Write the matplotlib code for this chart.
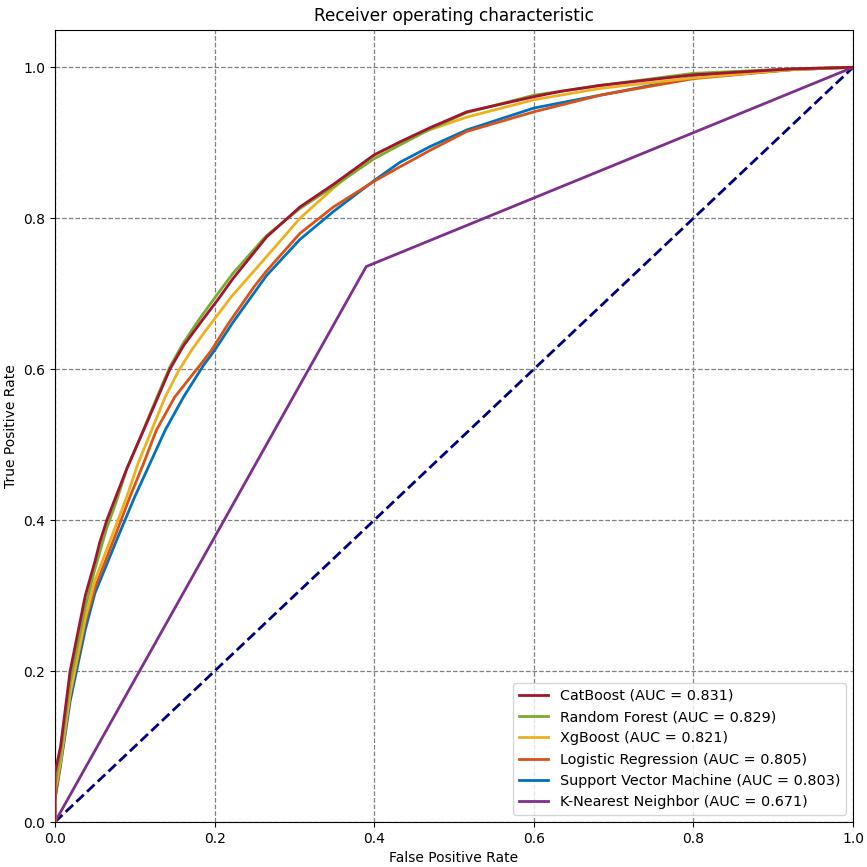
import matplotlib
matplotlib.use('Agg')
import matplotlib.pyplot as plt

# ROC points
fpr_catboost = [0, 0, 0.007, 0.019, 0.038, 0.05, 0.056, 0.065, 0.077, 0.090, 0.111,
                0.129, 0.144, 0.161, 0.184, 0.204, 0.223, 0.265, 0.307, 0.349, 0.4,
                0.432, 0.47, 0.516, 0.6, 0.633, 0.683, 0.8, 0.925, 1.0]
tpr_catboost = [0, 0.065, 0.1, 0.2, 0.3, 0.345, 0.37, 0.4, 0.433, 0.468, 0.519,
                0.563, 0.6, 0.631, 0.664, 0.692, 0.72, 0.775, 0.815, 0.845, 0.884,
                0.901, 0.92, 0.941, 0.961, 0.968, 0.976, 0.990, 0.998, 1.0]

fpr_rf = [0, 0, 0.007, 0.019, 0.038, 0.05, 0.065, 0.077, 0.090, 0.111, 0.129,
          0.144, 0.161, 0.182, 0.204, 0.223, 0.265, 0.307, 0.349, 0.4, 0.432,
          0.47, 0.516, 0.6, 0.683, 0.8, 0.925, 1.0]
tpr_rf = [0, 0.05, 0.09, 0.185, 0.285, 0.335, 0.39, 0.425, 0.468, 0.52, 0.566,
          0.603, 0.635, 0.668, 0.70, 0.727, 0.777, 0.813, 0.842, 0.879, 0.897,
          0.918, 0.940, 0.963, 0.976, 0.992, 0.998, 1.0]

fpr_xgb = [0, 0, 0.007, 0.019, 0.038, 0.05, 0.071, 0.090, 0.104, 0.121, 0.138,
           0.155, 0.171, 0.188, 0.221, 0.265, 0.307, 0.349, 0.4, 0.45, 0.516,
           0.6, 0.683, 0.8, 0.925, 1.0]
tpr_xgb = [0, 0.04, 0.08, 0.17, 0.27, 0.32, 0.378, 0.431, 0.475, 0.519, 0.563,
           0.598, 0.625, 0.65, 0.696, 0.749, 0.800, 0.840, 0.884, 0.910, 0.934,
           0.957, 0.972, 0.986, 0.997, 1.0]

fpr_lr = [0, 0, 0.007, 0.019, 0.038, 0.05, 0.075, 0.094, 0.111, 0.127, 0.150,
          0.180, 0.196, 0.217, 0.25, 0.265, 0.307, 0.349, 0.4, 0.432, 0.47,
          0.516, 0.6, 0.683, 0.8, 0.925, 1.0]
tpr_lr = [0, 0.03, 0.08, 0.17, 0.265, 0.31, 0.378, 0.431, 0.475, 0.519, 0.563,
          0.603, 0.625, 0.66, 0.71, 0.73, 0.78, 0.815, 0.849, 0.868, 0.89,
          0.915, 0.941, 0.963, 0.985, 0.997, 1.0]

fpr_svm = [0, 0, 0.007, 0.019, 0.038, 0.05, 0.079, 0.100, 0.119, 0.138, 0.161,
           0.186, 0.200, 0.223, 0.246, 0.265, 0.307, 0.349, 0.4, 0.432, 0.47,
           0.516, 0.6, 0.683, 0.8, 0.925, 1.0]
tpr_svm = [0, 0.03, 0.075, 0.16, 0.255, 0.303, 0.378, 0.431, 0.475, 0.519, 0.563,
           0.605, 0.625, 0.662, 0.696, 0.724, 0.772, 0.809, 0.850, 0.874, 0.895,
           0.917, 0.946, 0.963, 0.987, 0.997, 1.0]

fpr_knn = [0, 0.39, 1.0]
tpr_knn = [0, 0.736, 1.0]

model_names = ['CatBoost', 'Random Forest', 'XgBoost', 'Logistic Regression',
               'Support Vector Machine', 'K-Nearest Neighbor']
auc_values = [0.831, 0.829, 0.821, 0.805, 0.803, 0.671]
fpr_list = [fpr_catboost, fpr_rf, fpr_xgb, fpr_lr, fpr_svm, fpr_knn]
tpr_list = [tpr_catboost, tpr_rf, tpr_xgb, tpr_lr, tpr_svm, tpr_knn]
colors = ['#A2142F', '#77AC30', '#EDB120', '#D95319', '#0072BD', '#7E2F8E']

fig = plt.figure(figsize=(8.67, 8.67), dpi=100)
ax = fig.add_axes([0.0634, 0.0519, 0.9206, 0.914])

for i, name in enumerate(model_names):
    ax.plot(fpr_list[i], tpr_list[i], color=colors[i], lw=2,
            label=f"{name} (AUC = {auc_values[i]:.3f})", zorder=10 - i)
ax.plot([0, 1], [0, 1], color='navy', lw=2, linestyle='--', zorder=3)

ax.set_xlim([0.0, 1.0])
ax.set_ylim([0.0, 1.05])
ax.set_xlabel('False Positive Rate', fontsize=10)
ax.set_ylabel('True Positive Rate', fontsize=10)
ax.set_title('Receiver operating characteristic', fontsize=12.2)
ax.tick_params(labelsize=10)
ax.grid(True, color='gray', linestyle='--', lw=0.9)
ax.legend(loc='lower right', fontsize=10.4)

fig.savefig('out.png', dpi=100)
